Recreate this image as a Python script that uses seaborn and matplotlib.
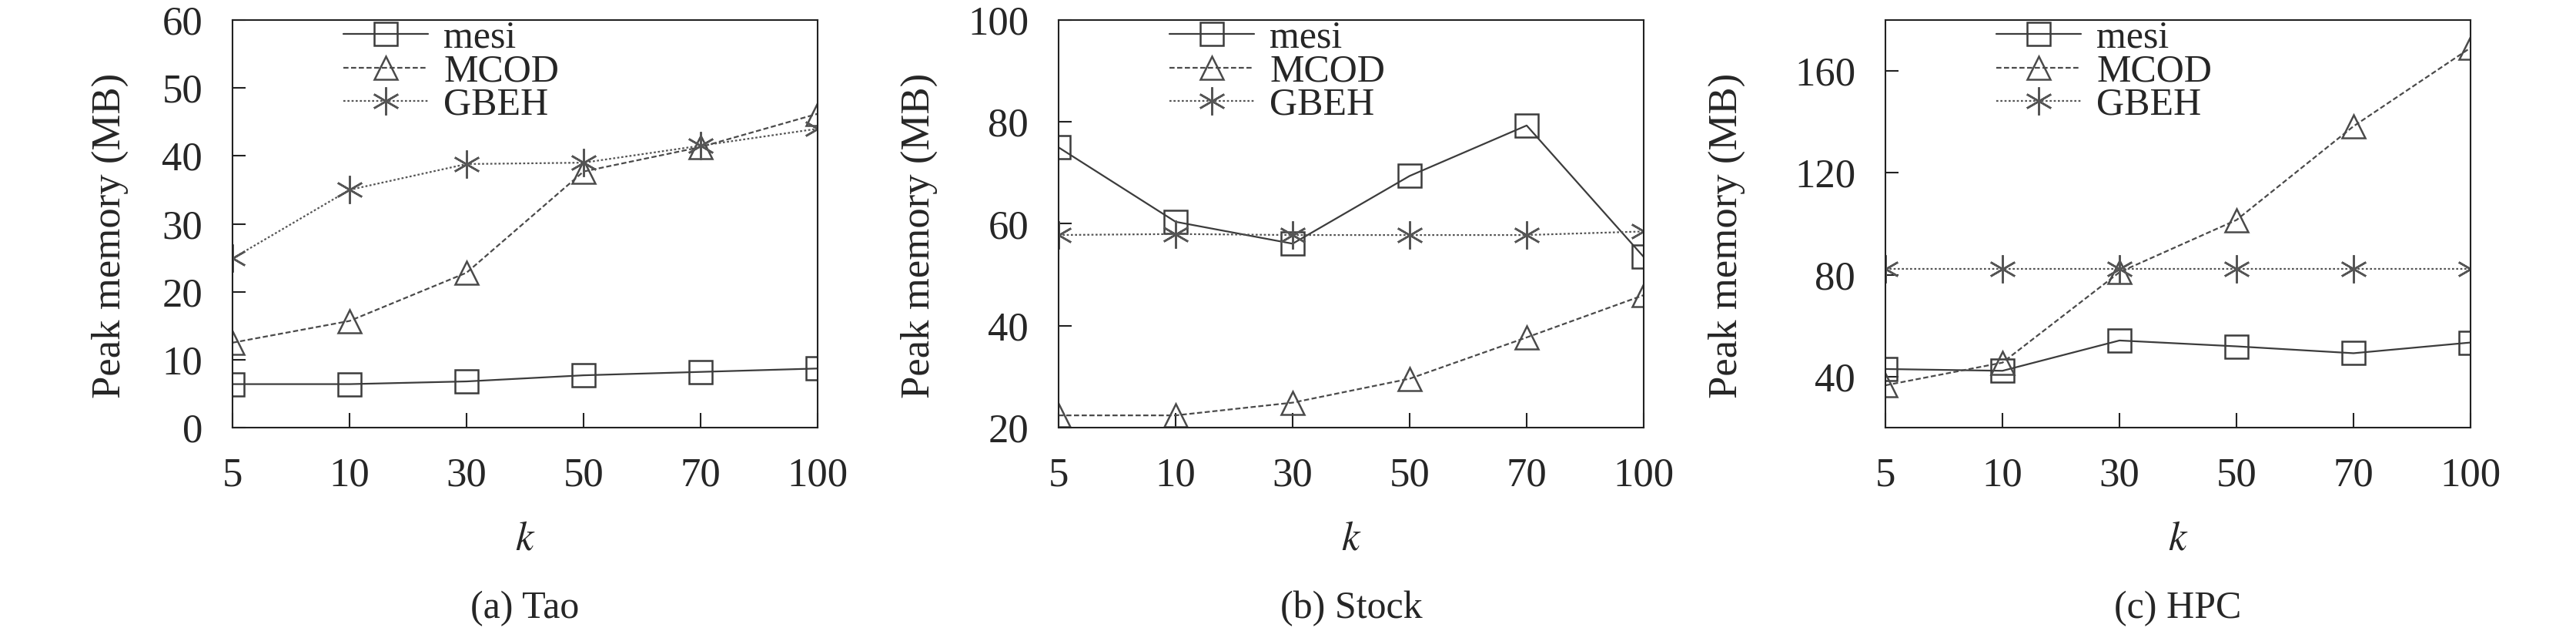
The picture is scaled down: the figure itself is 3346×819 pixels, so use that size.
"""
Peak memory vs k for mesi / MCOD / GBEH on three datasets (Tao, Stock, HPC).
Saves out.png
"""

import numpy as np
import seaborn as sns
import matplotlib.pyplot as plt

# --- Data ---
K_LABELS = ['5', '10', '30', '50', '70', '100']
METHODS = ['mesi', 'MCOD', 'GBEH']

tao_mesi = [6.4, 6.4, 6.8, 7.7, 8.2, 8.7]
tao_mcod = [12.5, 15.7, 22.8, 37.7, 41.3, 46.2]
tao_gbeh = [24.9, 35.0, 38.8, 39.0, 41.5, 44.0]

stock_mesi = [75.0, 60.4, 56.1, 69.4, 79.3, 53.5]
stock_mcod = [22.4, 22.4, 24.9, 29.6, 37.7, 46.0]
stock_gbeh = [57.8, 58.0, 57.8, 57.8, 57.8, 58.5]

hpc_mesi = [43.0, 42.3, 54.2, 51.9, 49.2, 53.4]
hpc_mcod = [36.6, 45.5, 81.0, 101.5, 138.3, 169.1]
hpc_gbeh = [82.3, 82.3, 82.3, 82.3, 82.3, 82.3]

CAPTIONS = ['(a) Tao', '(b) Stock', '(c) HPC']
YLIMS = [(0, 60), (20, 100), (20, 180)]
YTICKS = [[0, 10, 20, 30, 40, 50, 60], [20, 40, 60, 80, 100], [40, 80, 120, 160]]

# --- Styling ---
STYLES = {
    'mesi': dict(marker='s', linestyle='-', color='#3c3c3c', ms=22),
    'MCOD': dict(marker='^', linestyle=(0, (3, 1.5)), color='#4a4a4a', ms=22),
    'GBEH': dict(marker=(6, 2, 0), linestyle=(0, (1.2, 1.2)), color='#555555', ms=26),
}
AX_LEFT = [302, 1375, 2449]
AX_W = 760
AX_TOP, AX_BOTTOM = 26, 555
YLABEL_X = [-0.178, -0.207, -0.24]
W, H = 3346, 819


def main():
    sns.set_theme(style='ticks')
    plt.rcParams['font.family'] = ['Liberation Serif', 'DejaVu Serif']
    plt.rcParams['mathtext.fontset'] = 'stix'

    fig = plt.figure(figsize=(W / 100, H / 100), dpi=100)
    x = np.arange(len(K_LABELS))

    panels = [
        (tao_mesi, tao_mcod, tao_gbeh),
        (stock_mesi, stock_mcod, stock_gbeh),
        (hpc_mesi, hpc_mcod, hpc_gbeh),
    ]

    for i, series in enumerate(panels):
        ax = fig.add_axes([AX_LEFT[i] / W, 1 - AX_BOTTOM / H,
                           AX_W / W, (AX_BOTTOM - AX_TOP) / H])
        for name, vals in zip(METHODS, series):
            st = STYLES[name]
            sns.lineplot(x=x, y=vals, ax=ax, label=name, legend=False,
                         marker=st['marker'], linestyle=st['linestyle'],
                         color=st['color'], linewidth=1.6,
                         markersize=st['ms'], markerfacecolor='none',
                         markeredgecolor=st['color'], markeredgewidth=1.8)

        ax.set_xlim(x[0], x[-1])
        ax.set_ylim(*YLIMS[i])
        ax.set_yticks(YTICKS[i])
        ax.set_xticks(x)
        ax.set_xticklabels(K_LABELS)
        ax.tick_params(axis='both', direction='in', labelsize=38,
                       color='#222222', width=1.5)
        ax.tick_params(axis='x', length=14, pad=28)
        ax.tick_params(axis='y', length=12, pad=28)
        for sp in ax.spines.values():
            sp.set_linewidth(1.5)
            sp.set_color('#222222')

        ax.set_xlabel('$k$', fontsize=38)
        ax.xaxis.set_label_coords(0.5, -0.23)
        ax.set_ylabel('Peak memory (MB)', fontsize=38)
        ax.yaxis.set_label_coords(YLABEL_X[i], 0.47)

        ax.legend(loc='upper left', bbox_to_anchor=(0.19, 1.0), frameon=False,
                  fontsize=36, handlelength=2.2, handletextpad=0.4,
                  labelspacing=-0.06, borderpad=0.0, borderaxespad=0.0)

        ax.text(0.5, -0.445, CAPTIONS[i], transform=ax.transAxes,
                ha='center', va='center', fontsize=36)

    fig.savefig('out.png', dpi=100, facecolor='white')


if __name__ == "__main__":
    main()
